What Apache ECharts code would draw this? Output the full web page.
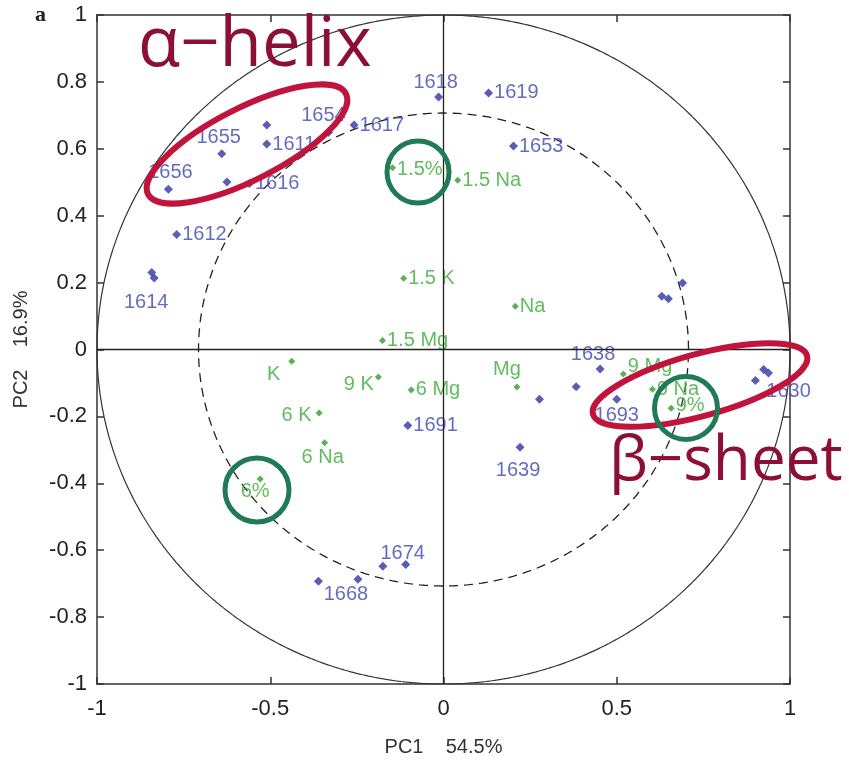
<!DOCTYPE html>
<html>
<head>
<meta charset="utf-8">
<script src="https://cdn.jsdelivr.net/npm/echarts@6/dist/echarts.min.js"></script>
<style>html,body{margin:0;padding:0;background:#fff;}#c{width:849px;height:762px;}</style>
</head>
<body>
<div id="c"></div>
<script>
// ---- data ----
const blueNames = ['1618','1619','1654','1617','','1611','1655','1656','','1616','1612','','1614','1653','','','','1638','','','1693','1639','','','1630','1691','','1674','1668',''];
const blueX = [-0.014,0.130,-0.332,-0.258,-0.51,-0.51,-0.64,-0.794,-0.625,-0.56,-0.77,-0.842,-0.835,0.202,0.690,0.630,0.649,0.452,0.383,0.277,0.5,0.221,0.9,0.924,0.938,-0.103,-0.175,-0.109,-0.247,-0.361];
const blueY = [0.755,0.767,0.649,0.671,0.671,0.614,0.585,0.479,0.501,0.496,0.344,0.230,0.214,0.608,0.199,0.159,0.152,-0.058,-0.111,-0.149,-0.149,-0.292,-0.093,-0.060,-0.070,-0.227,-0.648,-0.643,-0.687,-0.693];

const greenNames = ['1.5%','1.5 Na','1.5 K','Na','1.5 Mg','K','9 K','6 Mg','6 K','6 Na','6%','Mg','9 Mg','9 Na','9%'];
const greenX = [-0.147,0.041,-0.115,0.207,-0.176,-0.438,-0.188,-0.093,-0.359,-0.343,-0.529,0.212,0.519,0.603,0.657];
const greenY = [0.543,0.506,0.213,0.129,0.027,-0.035,-0.082,-0.121,-0.190,-0.279,-0.387,-0.112,-0.073,-0.119,-0.176];

const circleRadii = [1, 0.707];
const xAxisName = 'PC1    54.5%';
const yAxisName = 'PC2    16.9%';

// ---- label placement (style) ----
const labelPlace = {
  '1618':['top',-3,4], '1619':['right',0,0], '1654':['top',-5,2], '1617':['right',0,0],
  '1611':['right',0,0], '1655':['top',-3,2], '1656':['top',2,2], '1616':['right',0,0],
  '1612':['right',0,0], '1614':['bottom',-8,6], '1653':['right',0,0], '1638':['top',-7,4],
  '1693':['bottom',0,-2], '1639':['bottom',-2,5], '1630':['bottom',20,0], '1691':['right',0,0],
  '1674':['top',-3,7], '1668':['bottom',-12,-3],
  '1.5%':['right',0,2], '1.5 Na':['right',0,0], '1.5 K':['right',0,0], 'Na':['right',0,0],
  '1.5 Mg':['right',0,0], 'K':['left',-4,13], '9 K':['left',3,8], '6 Mg':['right',0,0],
  '6 K':['left',0,2], '6 Na':['bottom',-2,-3], '6%':['bottom',-5,-5], 'Mg':['top',-10,0],
  '9 Mg':['right',0,-7], '9 Na':['right',0,0], '9%':['right',0,-3]
};

function pts(names, xs, ys, color) {
  return names.map((n, i) => {
    const p = labelPlace[n] || ['right',0,0];
    return {
      value: [xs[i], ys[i]],
      name: n,
      label: {
        show: n !== '',
        formatter: n,
        position: p[0],
        offset: [p[1], p[2]],
        distance: p[0] === 'right' ? 1 : 4,
        color: color,
        fontSize: 20,
        fontFamily: 'Liberation Sans'
      }
    };
  });
}

function circlePts(r) {
  const out = [];
  for (let k = 0; k <= 720; k++) {
    const t = k / 720 * Math.PI * 2;
    out.push([r * Math.cos(t), r * Math.sin(t)]);
  }
  return out;
}

const chart = echarts.init(document.getElementById('c'), null, {renderer: 'canvas'});

const axisCommon = {
  min: -1, max: 1,
  axisLine: {show: true, onZero: false, lineStyle: {color: '#333', width: 1.5}},
  axisTick: {show: true, inside: true, length: 7, lineStyle: {color: '#333', width: 1.5}},
  splitLine: {show: false}
};
const tickFont = {color: '#222', fontSize: 22, fontFamily: 'Liberation Sans'};

const option = {
  backgroundColor: '#fff',
  animation: false,
  grid: {left: 97, right: 59, top: 15, bottom: 70, containLabel: false},
  xAxis: [
    Object.assign({}, axisCommon, {type: 'value', position: 'bottom', interval: 0.5,
      name: xAxisName, nameLocation: 'middle', nameGap: 53,
      nameTextStyle: {color: '#333', fontSize: 20, fontFamily: 'Liberation Sans'},
      axisLabel: Object.assign({margin: 14, formatter: v => String(v)}, tickFont)}),
    Object.assign({}, axisCommon, {type: 'value', position: 'top', interval: 0.5,
      axisLabel: {show: false}})
  ],
  yAxis: [
    Object.assign({}, axisCommon, {type: 'value', position: 'left', interval: 0.2,
      name: yAxisName, nameLocation: 'middle', nameGap: 66,
      nameTextStyle: {color: '#333', fontSize: 20, fontFamily: 'Liberation Sans'},
      axisLabel: Object.assign({margin: 10, formatter: v => String(Math.round(v * 10) / 10)}, tickFont)}),
    Object.assign({}, axisCommon, {type: 'value', position: 'right', interval: 0.2,
      axisLabel: {show: false}})
  ],
  graphic: [
    {type: 'text', left: 35, top: 4, z: 100,
      style: {text: 'a', font: 'bold 22px "Liberation Serif"', fill: '#222'}},
    {type: 'text', left: 138, top: 12, z: 100,
      style: {text: 'α\u2212helix', font: '69px "Open Sans"', fill: '#8c1035'}},
    {type: 'text', left: 609, top: 431, z: 100,
      style: {text: 'β\u2212sheet', font: '62px "Open Sans"', fill: '#8c1035'}},
    {type: 'ellipse', x: 247, y: 144, rotation: 26.9 * Math.PI / 180, z: 100,
      shape: {cx: 0, cy: 0, rx: 111, ry: 36},
      style: {fill: 'none', stroke: '#c0143c', lineWidth: 6}},
    {type: 'ellipse', x: 700, y: 385, rotation: 15.3 * Math.PI / 180, z: 100,
      shape: {cx: 0, cy: 0, rx: 111, ry: 31},
      style: {fill: 'none', stroke: '#c0143c', lineWidth: 6}},
    {type: 'circle', x: 418, y: 172, z: 100, shape: {cx: 0, cy: 0, r: 31},
      style: {fill: 'none', stroke: '#1f7a55', lineWidth: 5}},
    {type: 'circle', x: 257, y: 490, z: 100, shape: {cx: 0, cy: 0, r: 32},
      style: {fill: 'none', stroke: '#1f7a55', lineWidth: 5}},
    {type: 'circle', x: 686, y: 408, z: 100, shape: {cx: 0, cy: 0, r: 31.5},
      style: {fill: 'none', stroke: '#1f7a55', lineWidth: 5}}
  ],
  series: [
    {type: 'line', data: circlePts(circleRadii[0]), symbol: 'none', silent: true,
      lineStyle: {color: '#333', width: 1.2}, z: 1,
      markLine: {silent: true, symbol: 'none', label: {show: false},
        lineStyle: {color: '#222', width: 1.3, type: 'solid'},
        data: [{xAxis: 0}, {yAxis: 0}]}},
    {type: 'line', data: circlePts(circleRadii[1]), symbol: 'none', silent: true,
      lineStyle: {color: '#222', width: 1.3, type: [9, 6]}, z: 1},
    {type: 'scatter', data: pts(blueNames, blueX, blueY, '#3f46b0'), symbol: 'diamond', symbolSize: 9,
      itemStyle: {color: '#2e36a0'}, z: 3},
    {type: 'scatter', data: pts(greenNames, greenX, greenY, '#3aab36'), symbol: 'diamond', symbolSize: 7,
      itemStyle: {color: '#2f9e2a'}, z: 3}
  ]
};
chart.setOption(option);
</script>
</body>
</html>
